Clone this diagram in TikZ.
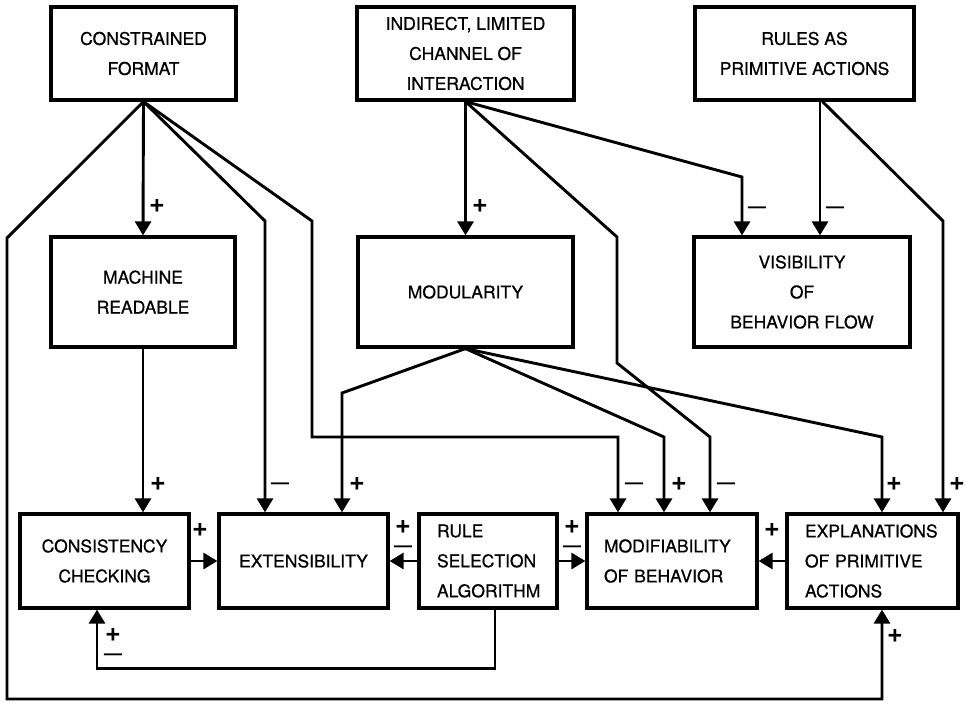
\documentclass[tikz,border=0pt]{standalone}
\usepackage{fontspec}
\setmainfont{TeX Gyre Heros}
\newfontfamily\boxfont{TeX Gyre Heros}[FakeBold=0.7]
\usetikzlibrary{arrows.meta}

\tikzset{
  box/.style={draw, line width=3.2pt, inner sep=0pt, align=center, font=\boxfont\fontsize{17.5}{30}\selectfont},
  leftbox/.style={box, align=left},
  link/.style={line width=2.9pt, -{Triangle[length=14pt,width=16pt]}},
  sign/.style={font=\bfseries\fontsize{27}{17}\selectfont, inner sep=0pt, align=center},
  minus/.style={font=\bfseries\fontsize{18}{17}\selectfont, inner sep=0pt, align=center},
}

\begin{document}
\begin{tikzpicture}[x=1pt,y=-1pt]
	\useasboundingbox (0,0) rectangle (966,702);
	\node[box, minimum width=185pt, minimum height=93pt] (cf) at (143.5,53.5) {CONSTRAINED\\FORMAT};
	\node[box, minimum width=217pt, minimum height=93pt] (il) at (465.5,53.5) {INDIRECT, LIMITED\\CHANNEL OF\\INTERACTION};
	\node[box, minimum width=219pt, minimum height=93pt] (rp) at (804.5,53.5) {RULES AS\\PRIMITIVE ACTIONS};
	\node[box, minimum width=184pt, minimum height=110pt] (mr) at (143,292) {MACHINE\\READABLE};
	\node[box, minimum width=215pt, minimum height=110pt] (mod) at (465.5,292) {MODULARITY};
	\node[box, minimum width=216pt, minimum height=110pt] (vis) at (802,292) {VISIBILITY\\OF\\BEHAVIOR FLOW};
	\node[box, minimum width=169pt, minimum height=94pt] (cc) at (104.5,561) {CONSISTENCY\\CHECKING};
	\node[box, minimum width=169pt, minimum height=94pt] (ext) at (303.5,561) {EXTENSIBILITY};
	\node[leftbox, text width=102pt, inner xsep=18pt, minimum height=94pt] (rsa) at (488,561) {RULE\\SELECTION\\ALGORITHM};
	\node[leftbox, text width=136pt, inner xsep=17pt, minimum height=94pt] (mob) at (672,561) {MODIFIABILITY\\OF BEHAVIOR};
	\node[leftbox, text width=135pt, inner xsep=18pt, minimum height=94pt] (epa) at (872.5,561) {EXPLANATIONS\\OF PRIMITIVE\\ACTIONS};

	\coordinate (cfl) at (7,238);
	\coordinate (cfb) at (7,699);
	\coordinate (cfx) at (265,221);
	\coordinate (cfm) at (312,221);
	\coordinate (cfh) at (312,437);
	\coordinate (ilm) at (617,237);
	\coordinate (ild) at (617,363);
	\coordinate (ilk) at (710,437);
	\coordinate (ilv) at (742,177);
	\coordinate (rpc) at (943,221);
	\coordinate (modx) at (342,393);
	\coordinate (modm) at (664,437);
	\coordinate (mode) at (882,437);

	\draw[link] (cf.south) -- (mr.north);
	\draw[link] (cf.south) -- (cfl) -- (cfb) -| (mode |- epa.south);
	\draw[link] (cf.south) -- (cfx) -- (cfx |- ext.north);
	\draw[link] (cf.south) -- (cfm) -- (cfh) -| ([xshift=-54pt]mob.north);
	\draw[link] (il.south) -- (mod.north);
	\draw[link] (il.south) -- (ilm) -- (ild) -- (ilk) -- (ilk |- mob.north);
	\draw[link] (il.south) -- (ilv) -- (ilv |- vis.north);
	\draw[link] ([xshift=15.5pt]rp.south) -- ([xshift=18pt]vis.north);
	\draw[link] ([xshift=18pt]rp.south) -- (rpc) -- (rpc |- epa.north);
	\draw[link] (mod.south) -- (modx) -- (modx |- ext.north);
	\draw[link] (mod.south) -- (modm) -- (modm |- mob.north);
	\draw[link] (mod.south) -- (mode) -- (mode |- epa.north);
	\draw[link] (mr.south) -- (mr.south |- cc.north);
	\draw[link] (cc.east) -- (ext.west);
	\draw[link] (rsa.west) -- (ext.east);
	\draw[link] (rsa.east) -- (mob.west);
	\draw[link] (epa.west) -- (mob.east);
	\draw[link] ([xshift=7pt]rsa.south) -- ++(0,59) -| ([xshift=-7.5pt]cc.south);

	\node[sign] (s1) at (157,206) {+};
	\node[sign] (s2) at (480,206) {+};
	\node[minus] (s3) at (757,210) {—};
	\node[minus] (s4) at (835,210) {—};
	\node[sign] (s5) at (158,484) {+};
	\node[minus] (s6) at (280,486) {—};
	\node[sign] (s7) at (357,484) {+};
	\node[minus] (s8) at (634,486) {—};
	\node[sign] (s9) at (679,484) {+};
	\node[minus] (s10) at (726,486) {—};
	\node[sign] (s11) at (894,484) {+};
	\node[sign] (s12) at (957,484) {+};
	\node[sign] (s13) at (200,530) {+};
	\node[sign] (s14) at (403,527) {+};
	\node[minus] (s14m) at (403,549) {—};
	\node[sign] (s15) at (572,527) {+};
	\node[minus] (s15m) at (572,549) {—};
	\node[sign] (s16) at (772,530) {+};
	\node[sign] (s17) at (113,635) {+};
	\node[minus] (s17m) at (113,657) {—};
	\node[sign] (s18) at (895,636) {+};
\end{tikzpicture}
\end{document}
